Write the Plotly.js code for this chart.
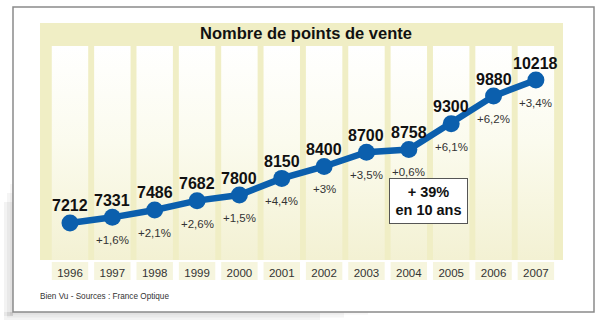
<!DOCTYPE html>
<html>
<head>
<meta charset="utf-8">
<script src="https://cdn.plot.ly/plotly-3.0.1.min.js"></script>
<style>html,body{margin:0;padding:0;background:#fff;}#chart{width:608px;height:323px;}</style>
</head>
<body>
<div id="chart"></div>
<script>
// Data
var years = ['1996','1997','1998','1999','2000','2001','2002','2003','2004','2005','2006','2007'];
var points = [7212, 7331, 7486, 7682, 7800, 8150, 8400, 8700, 8758, 9300, 9880, 10218];
var growth = ['', '+1,6%', '+2,1%', '+2,6%', '+1,5%', '+4,4%', '+3%', '+3,5%', '+0,6%', '+6,1%', '+6,2%', '+3,4%'];
var totalGrowth = '+ 39%<br>en 10 ans';
var chartTitle = 'Nombre de points de vente';
var sourceText = 'Bien Vu - Sources : France Optique';

// Layout geometry (pixels)
var W = 608, H = 323;
var L = 40, R = 563, T = 46, B = 260;
var YMIN = 6434, YMAX = 10933;
var XMIN = -0.708, XMAX = 11.64;
function px(p) { return (p - L) / (R - L); }
function py(p) { return (B - p) / (B - T); }

var idx = years.map(function (_, i) { return i; });
var beige = '#f0eec5';
var blue = '#0b5fad';

var traces = [];
// Background columns with vertical gradient
var hw = 0.43;
idx.forEach(function (i) {
  traces.push({
    type: 'scatter', mode: 'none', hoverinfo: 'skip', showlegend: false,
    x: [i - hw, i + hw, i + hw, i - hw, i - hw],
    y: [YMIN, YMIN, YMAX, YMAX, YMIN],
    fill: 'toself',
    fillgradient: { type: 'vertical', start: YMIN, stop: YMAX,
      colorscale: [[0, '#f3f1d3'], [0.55, '#fbfbee'], [1, '#ffffff']] }
  });
});

// Main line
traces.push({
  type: 'scatter', mode: 'lines+markers', showlegend: false, hoverinfo: 'skip',
  x: idx, y: points,
  line: { color: blue, width: 6.5 },
  marker: { color: blue, size: 17 }
});

var annotations = [];
idx.forEach(function (i) {
  annotations.push({
    x: i, y: points[i], xref: 'x', yref: 'y', text: String(points[i]),
    showarrow: false, yshift: 17,
    font: { family: 'Liberation Sans, Arial, sans-serif', size: 16, color: '#111', weight: 'bold' }
  });
  if (growth[i]) {
    annotations.push({
      x: i, y: points[i], xref: 'x', yref: 'y', text: growth[i],
      showarrow: false, yshift: -23,
      font: { family: 'Liberation Sans, Arial, sans-serif', size: 11.5, color: '#333' }
    });
  }
});

annotations.push({
  x: px(428.5), y: py(201), xref: 'paper', yref: 'paper', xanchor: 'center', yanchor: 'middle',
  text: totalGrowth, showarrow: false,
  width: 75, height: 42, borderpad: 1,
  bgcolor: '#ffffff', bordercolor: '#555', borderwidth: 1,
  font: { family: 'Liberation Sans, Arial, sans-serif', size: 14.5, color: '#111', weight: 'bold' }
});
annotations.push({
  x: px(38), y: py(296), xref: 'paper', yref: 'paper', xanchor: 'left', yanchor: 'middle',
  text: sourceText, showarrow: false,
  font: { family: 'Liberation Sans, Arial, sans-serif', size: 8.2, color: '#333' }
});

var shapes = [];
// Shadow (lower-left)
[[9, 0.07], [6, 0.06], [3, 0.05]].forEach(function (s) {
  shapes.push({ type: 'rect', xref: 'paper', yref: 'paper', layer: 'below',
    x0: px(13 - s[0]), x1: px(13), y0: py(316), y1: py(175 + s[0] * 3),
    fillcolor: 'rgba(90,80,80,' + s[1] + ')', line: { width: 0 } });
  shapes.push({ type: 'rect', xref: 'paper', yref: 'paper', layer: 'below',
    x0: px(13 - s[0]), x1: px(392 - s[0] * 8), y0: py(312 + s[0] * 0.9), y1: py(312),
    fillcolor: 'rgba(90,80,80,' + s[1] + ')', line: { width: 0 } });
});
// Frame
shapes.push({ type: 'rect', xref: 'paper', yref: 'paper', layer: 'below',
  x0: px(13), x1: px(594), y0: py(312), y1: py(7),
  fillcolor: '#ffffff', line: { color: '#8a8a8a', width: 1.5 } });
// Beige panel
shapes.push({ type: 'rect', xref: 'paper', yref: 'paper', layer: 'below',
  x0: 0, x1: 1, y0: 0, y1: py(23),
  fillcolor: beige, line: { width: 0 } });
// Year label boxes
idx.forEach(function (i) {
  shapes.push({ type: 'rect', xref: 'x', yref: 'paper', layer: 'below',
    x0: i - hw, x1: i + hw, y0: py(280), y1: py(262),
    fillcolor: '#f6f5de', line: { width: 0 } });
});

var layout = {
  width: W, height: H,
  margin: { l: L, r: W - R, t: T, b: H - B, pad: 0 },
  paper_bgcolor: '#ffffff', plot_bgcolor: 'rgba(0,0,0,0)',
  showlegend: false,
  title: { text: chartTitle, x: 306 / W, xanchor: 'center', y: 1 - 33 / H, yanchor: 'middle',
    font: { family: 'Liberation Sans, Arial, sans-serif', size: 16.5, color: '#111', weight: 'bold' } },
  xaxis: { range: [XMIN, XMAX], tickvals: idx, ticktext: years, showgrid: false, zeroline: false,
    showline: false, ticks: '', ticklabelstandoff: 4, fixedrange: true,
    tickfont: { family: 'Liberation Sans, Arial, sans-serif', size: 11.5, color: '#333' } },
  yaxis: { range: [YMIN, YMAX], showgrid: false, zeroline: false, showline: false,
    showticklabels: false, ticks: '', fixedrange: true },
  shapes: shapes,
  annotations: annotations
};

Plotly.newPlot('chart', traces, layout, { staticPlot: true, displayModeBar: false });
</script>
</body>
</html>
